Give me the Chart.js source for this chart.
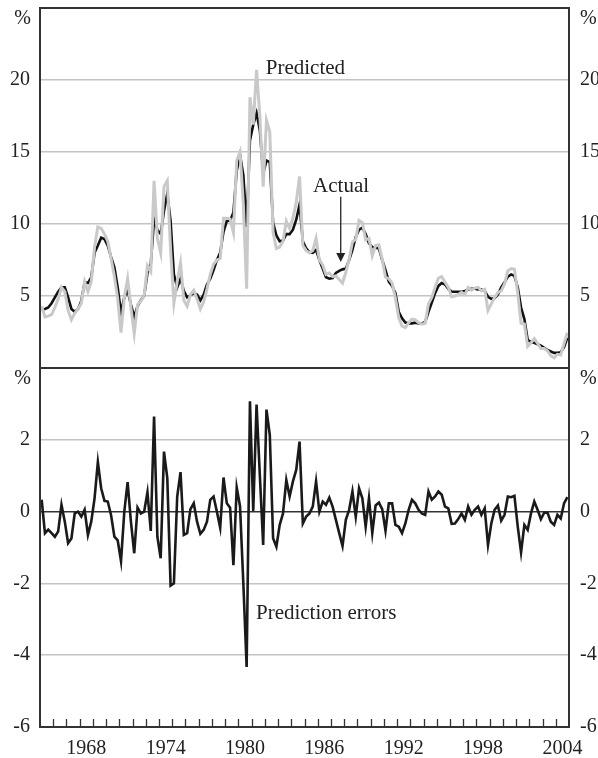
<!DOCTYPE html>
<html lang="en">
<head>
<meta charset="UTF-8">
<title>Actual and predicted</title>
<script src="https://cdn.jsdelivr.net/npm/chart.js@4"></script>
<style>
  body { margin: 0; background: #fff; }
  #wrap { position: relative; width: 598px; height: 758px; overflow: hidden; }
  canvas { position: absolute; left: 0; }
  #topChart { top: 0; }
  #bottomChart { top: 364px; }
</style>
</head>
<body>
<div id="wrap">
  <canvas id="topChart" width="598" height="370"></canvas>
  <canvas id="bottomChart" width="598" height="394"></canvas>
</div>
<script>
// quarterly data, 1965 Q1 to 2004 Q4
var firstYear = 1965;
var lastYear = 2005;
var tickYears = [1968, 1974, 1980, 1986, 1992, 1998, 2004];

var actual = [4.07, 4.1, 4.2, 4.5, 4.9, 5.3, 5.6, 5.6, 4.9, 4.1,
  3.9, 4.1, 4.65, 5.95, 5.9, 6.3, 8.0, 8.5, 9.05, 8.95,
  8.5, 7.7, 7.0, 5.6, 3.85, 4.9, 5.4, 4.4, 3.55, 4.3,
  4.7, 5.0, 6.6, 7.2, 10.3, 9.6, 9.3, 10.9, 12.1, 10.2,
  6.5, 5.6, 6.2, 5.35, 4.9, 5.05, 5.2, 5.1, 4.7, 5.1,
  5.8, 6.2, 6.8, 7.5, 8.0, 9.45, 10.2, 10.25, 10.8, 13.7,
  14.8, 13.4, 9.8, 15.8, 16.9, 17.7, 16.5, 13.5, 14.4, 14.3,
  10.1, 9.2, 8.8, 8.85, 9.3, 9.3, 9.6, 10.3, 11.35, 8.8,
  8.3, 8.05, 8.0, 8.2, 7.5, 6.9, 6.3, 6.2, 6.25, 6.6,
  6.75, 6.85, 6.9, 7.5, 8.2, 9.1, 9.6, 9.75, 9.3, 8.65,
  8.4, 8.35, 8.3, 7.5, 6.8, 6.0, 5.7, 5.2, 3.9, 3.45,
  3.15, 3.1, 3.1, 3.15, 3.1, 3.1, 3.2, 3.9, 4.55, 5.2,
  5.7, 5.9, 5.8, 5.5, 5.3, 5.3, 5.3, 5.3, 5.35, 5.45,
  5.5, 5.5, 5.45, 5.45, 5.35, 4.95, 4.8, 4.85, 5.1, 5.6,
  5.95, 6.35, 6.5, 6.4, 5.6, 4.2, 3.4, 1.95, 1.8, 1.75,
  1.65, 1.55, 1.4, 1.25, 1.15, 1.05, 1.05, 1.1, 1.45, 2.1];

var predicted = [4.3, 3.55, 3.6, 3.7, 4.2, 4.8, 5.6, 5.3, 4.0, 3.35,
  3.8, 4.1, 4.5, 6.0, 5.3, 6.0, 8.4, 9.8, 9.7, 9.3,
  8.8, 7.6, 6.35, 4.8, 2.45, 4.9, 6.2, 4.2, 2.4, 4.4,
  4.65, 5.0, 7.1, 6.7, 13.0, 9.0, 8.0, 12.6, 13.0, 8.2,
  4.5, 6.0, 7.3, 4.7, 4.3, 5.1, 5.4, 4.8, 4.1, 4.6,
  5.5, 6.5, 7.2, 7.5, 7.6, 10.4, 10.4, 10.35, 9.4, 14.4,
  15.0, 11.4, 5.5, 18.8, 16.9, 20.7, 17.5, 12.6, 17.2, 16.4,
  9.4, 8.3, 8.4, 8.8, 10.2, 9.7, 10.4, 11.5, 13.3, 8.5,
  8.15, 8.0, 8.15, 9.0, 7.5, 7.15, 6.5, 6.6, 6.35, 6.4,
  6.15, 5.9, 6.65, 7.55, 8.75, 8.95, 10.25, 10.1, 8.9, 9.0,
  7.8, 8.5, 8.55, 7.55, 6.3, 6.2, 5.9, 4.85, 3.5, 2.9,
  2.8, 3.15, 3.4, 3.35, 3.15, 3.05, 3.1, 4.45, 4.9, 5.6,
  6.25, 6.35, 5.95, 5.6, 4.95, 5.0, 5.1, 5.25, 5.1, 5.6,
  5.4, 5.55, 5.6, 5.35, 5.45, 4.0, 4.45, 4.9, 5.25, 5.35,
  5.85, 6.75, 6.9, 6.85, 5.2, 3.1, 3.05, 1.5, 1.75, 2.05,
  1.7, 1.35, 1.35, 1.2, 0.85, 0.7, 0.95, 0.9, 1.7, 2.45];

var errors = [0.33, -0.6, -0.5, -0.6, -0.7, -0.55, 0.19, -0.28, -0.88, -0.75,
  -0.05, 0, -0.14, 0.05, -0.65, -0.28, 0.37, 1.38, 0.65, 0.3,
  0.28, -0.1, -0.7, -0.8, -1.38, 0, 0.82, -0.28, -1.16, 0.11,
  -0.05, 0, 0.54, -0.54, 2.65, -0.7, -1.3, 1.67, 0.93, -2.06,
  -2.0, 0.42, 1.1, -0.65, -0.6, 0.07, 0.23, -0.28, -0.62, -0.51,
  -0.28, 0.33, 0.42, 0, -0.45, 0.95, 0.23, 0.11, -1.49, 0.67,
  0.15, -2.0, -4.33, 3.07, 0.02, 2.98, 1.0, -0.93, 2.84, 2.14,
  -0.74, -0.98, -0.37, -0.05, 0.88, 0.42, 0.84, 1.16, 1.95, -0.33,
  -0.14, -0.05, 0.14, 0.84, 0, 0.28, 0.19, 0.39, 0.14, -0.23,
  -0.6, -0.96, -0.23, 0.05, 0.56, -0.14, 0.65, 0.37, -0.42, 0.37,
  -0.6, 0.17, 0.25, 0.07, -0.53, 0.23, 0.23, -0.37, -0.42, -0.6,
  -0.33, 0.05, 0.33, 0.23, 0.05, -0.05, -0.09, 0.56, 0.33, 0.42,
  0.56, 0.47, 0.14, 0.09, -0.34, -0.33, -0.21, -0.05, -0.23, 0.14,
  -0.09, 0.05, 0.14, -0.09, 0.09, -0.93, -0.33, 0.05, 0.17, -0.25,
  -0.09, 0.42, 0.4, 0.44, -0.42, -1.14, -0.37, -0.51, -0.05, 0.28,
  0.05, -0.21, -0.03, -0.03, -0.28, -0.37, -0.09, -0.19, 0.23, 0.4];

// mid-quarter dates
var quarters = actual.map(function(v, i) { return firstYear + 0.125 + i * 0.25; });

function points(values) {
  return values.map(function(v, i) { return { x: quarters[i], y: v }; });
}

var serif = "'Liberation Serif', 'Times New Roman', serif";
Chart.defaults.font.family = serif;
Chart.defaults.font.size = 20;
Chart.defaults.color = '#222';

// box, % signs, labels, year ticks
var frame = {
  id: 'frame',
  afterDatasetsDraw: function(chart, args, opts) {
    var ctx = chart.ctx, a = chart.chartArea;
    var xs = chart.scales.x, ys = chart.scales.y;
    ctx.save();
    ctx.fillStyle = '#222';
    ctx.font = '20px ' + serif;
    ctx.textBaseline = 'middle';
    ctx.textAlign = 'right';
    ctx.fillText('%', a.left - 9, a.top + 11);
    ctx.textAlign = 'left';
    ctx.fillText('%', a.right + 11, a.top + 11);

    ctx.font = '21px ' + serif;
    (opts.notes || []).forEach(function(n) {
      ctx.fillText(n.text, xs.getPixelForValue(n.x), ys.getPixelForValue(n.y));
    });

    if (opts.arrow) {
      var ax = xs.getPixelForValue(opts.arrow.x);
      var y0 = ys.getPixelForValue(opts.arrow.from);
      var y1 = ys.getPixelForValue(opts.arrow.to);
      ctx.strokeStyle = '#222';
      ctx.lineWidth = 1.3;
      ctx.beginPath();
      ctx.moveTo(ax, y0);
      ctx.lineTo(ax, y1 - 8);
      ctx.stroke();
      ctx.beginPath();
      ctx.moveTo(ax - 4.5, y1 - 9);
      ctx.lineTo(ax + 4.5, y1 - 9);
      ctx.lineTo(ax, y1);
      ctx.closePath();
      ctx.fill();
    }

    if (opts.yearTicks) {
      ctx.strokeStyle = '#333';
      ctx.lineWidth = 1.3;
      for (var yr = firstYear + 1; yr < lastYear; yr++) {
        var px = Math.round(xs.getPixelForValue(yr)) + 0.5;
        ctx.beginPath();
        ctx.moveTo(px, a.bottom);
        ctx.lineTo(px, a.bottom - 8);
        ctx.stroke();
      }
    }

    ctx.strokeStyle = '#333';
    ctx.lineWidth = 2;
    ctx.strokeRect(a.left, a.top, a.right - a.left, a.bottom - a.top);
    ctx.restore();
  }
};

function yAxes(min, max, hidden, zeroDark) {
  var left = {
    position: 'left', min: min, max: max,
    afterFit: function(s) { s.width = 40; s.paddingTop = 0; s.paddingBottom = 0; },
    border: { display: false },
    grid: {
      drawTicks: false, lineWidth: 1.5,
      color: function(c) {
        var v = c.tick.value;
        if (v === min || v === max) return 'rgba(0,0,0,0)';
        if (zeroDark && v === 0) return '#333';
        return '#c4c4c4';
      }
    },
    ticks: {
      stepSize: 2, padding: 10,
      callback: function(v) { return hidden.indexOf(v) >= 0 ? '' : String(v); }
    }
  };
  var right = JSON.parse(JSON.stringify(left));
  right.position = 'right';
  right.afterFit = function(s) { s.width = 29; s.paddingTop = 0; s.paddingBottom = 0; };
  right.grid = { display: false, drawTicks: false };
  right.ticks.padding = 11;
  right.ticks.callback = left.ticks.callback;
  return { left: left, right: right };
}

var topAxes = yAxes(0, 25, [0, 25], false);
topAxes.left.ticks.stepSize = 5;
topAxes.right.ticks.stepSize = 5;

new Chart(document.getElementById('topChart'), {
  type: 'line',
  data: {
    datasets: [
      { label: 'Predicted', data: points(predicted), borderColor: '#c9c9c9',
        borderWidth: 3, pointRadius: 0, tension: 0, yAxisID: 'y' },
      { label: 'Actual', data: points(actual), borderColor: '#111',
        borderWidth: 2.6, pointRadius: 0, tension: 0, yAxisID: 'y' }
    ]
  },
  options: {
    responsive: false,
    animation: false,
    layout: { padding: { top: 8, bottom: 2, left: 0, right: 0 } },
    scales: {
      x: { type: 'linear', min: firstYear, max: lastYear, display: false },
      y: topAxes.left,
      y2: topAxes.right
    },
    plugins: {
      legend: { display: false },
      tooltip: { enabled: false },
      frame: {
        notes: [
          { text: 'Predicted', x: 1982.07, y: 20.8 },
          { text: 'Actual', x: 1985.65, y: 12.6 }
        ],
        arrow: { x: 1987.74, from: 11.9, to: 7.36 }
      }
    }
  },
  plugins: [frame]
});

var botAxes = yAxes(-6, 4, [4], true);

new Chart(document.getElementById('bottomChart'), {
  type: 'line',
  data: {
    datasets: [
      { label: 'Prediction errors', data: points(errors), borderColor: '#1a1a1a',
        borderWidth: 2.6, pointRadius: 0, tension: 0, yAxisID: 'y' }
    ]
  },
  options: {
    responsive: false,
    animation: false,
    layout: { padding: { top: 4, bottom: 0, left: 0, right: 0 } },
    scales: {
      x: {
        type: 'linear', min: firstYear, max: lastYear,
        afterFit: function(s) { s.height = 31; s.paddingLeft = 0; s.paddingRight = 0; },
        afterBuildTicks: function(s) {
          s.ticks = tickYears.map(function(y) { return { value: y + 0.5 }; });
        },
        border: { display: false },
        grid: { display: false, drawTicks: false },
        ticks: {
          padding: 10, maxRotation: 0, autoSkip: false,
          callback: function(v) { return String(Math.floor(v)); }
        }
      },
      y: botAxes.left,
      y2: botAxes.right
    },
    plugins: {
      legend: { display: false },
      tooltip: { enabled: false },
      frame: {
        notes: [ { text: 'Prediction errors', x: 1981.33, y: -2.83 } ],
        yearTicks: true
      }
    }
  },
  plugins: [frame]
});
</script>
</body>
</html>
